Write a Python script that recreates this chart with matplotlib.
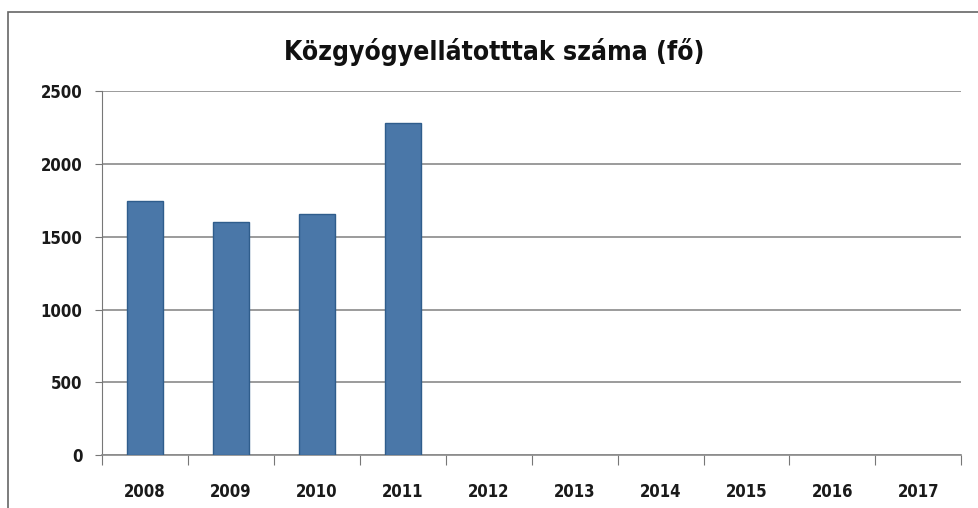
import numpy as np
import matplotlib.pyplot as plt
from matplotlib.patches import Rectangle

# Adatok
evek = ['2008', '2009', '2010', '2011', '2012', '2013', '2014', '2015', '2016', '2017']
ellatottak = [1750, 1600, 1660, 2280]  # csak 2008-2011 van adat
y_ticks = [0, 500, 1000, 1500, 2000, 2500]

plt.rcParams['font.family'] = ['DejaVu Sans']
plt.rcParams['font.stretch'] = 'condensed'

fig = plt.figure(figsize=(9.79, 5.08), dpi=100)
ax = fig.add_axes([0.104, 0.104, 0.878, 0.716])

x = np.arange(len(evek))
ax.bar(x[:len(ellatottak)], ellatottak, width=0.42, color='#4a77a8',
       edgecolor='#2f5d8c', linewidth=1, zorder=3)

ax.set_xlim(-0.5, len(evek) - 0.5)
ax.set_ylim(0, 2500)
ax.set_yticks(y_ticks)
ax.set_yticklabels([str(v) for v in y_ticks], fontsize=12, fontweight='heavy',
                   color='#1a1a1a')
ax.yaxis.grid(True, color='#8a8a8a', linewidth=1.2, zorder=0)

# kategóriák közötti osztások
ax.set_xticks(np.arange(len(evek) + 1) - 0.5)
ax.set_xticklabels([])
ax.set_xticks(x, minor=True)
ax.set_xticklabels(evek, minor=True, fontsize=12, fontweight='heavy', color='#1a1a1a')
ax.tick_params(axis='x', which='major', length=7, color='#777777', direction='out')
ax.tick_params(axis='x', which='minor', length=0, pad=20)
ax.tick_params(axis='y', length=5, color='#777777', pad=9)

for s in ['top', 'right']:
    ax.spines[s].set_visible(False)
ax.spines['left'].set_color('#777777')
ax.spines['bottom'].set_color('#8a8a8a')
ax.spines['bottom'].set_linewidth(1.2)

fig.suptitle('Közgyógyellátotttak száma (fő)', x=0.505, y=0.925, fontsize=19,
             fontweight='heavy', color='#111111')

# diagram keret
fig.patches.append(Rectangle((0.008, -0.2), 1.5, 1.2 - 12 / 508, transform=fig.transFigure,
                             fill=False, edgecolor='#666666', linewidth=1.2, clip_on=False))

plt.savefig('out.png', dpi=100)
